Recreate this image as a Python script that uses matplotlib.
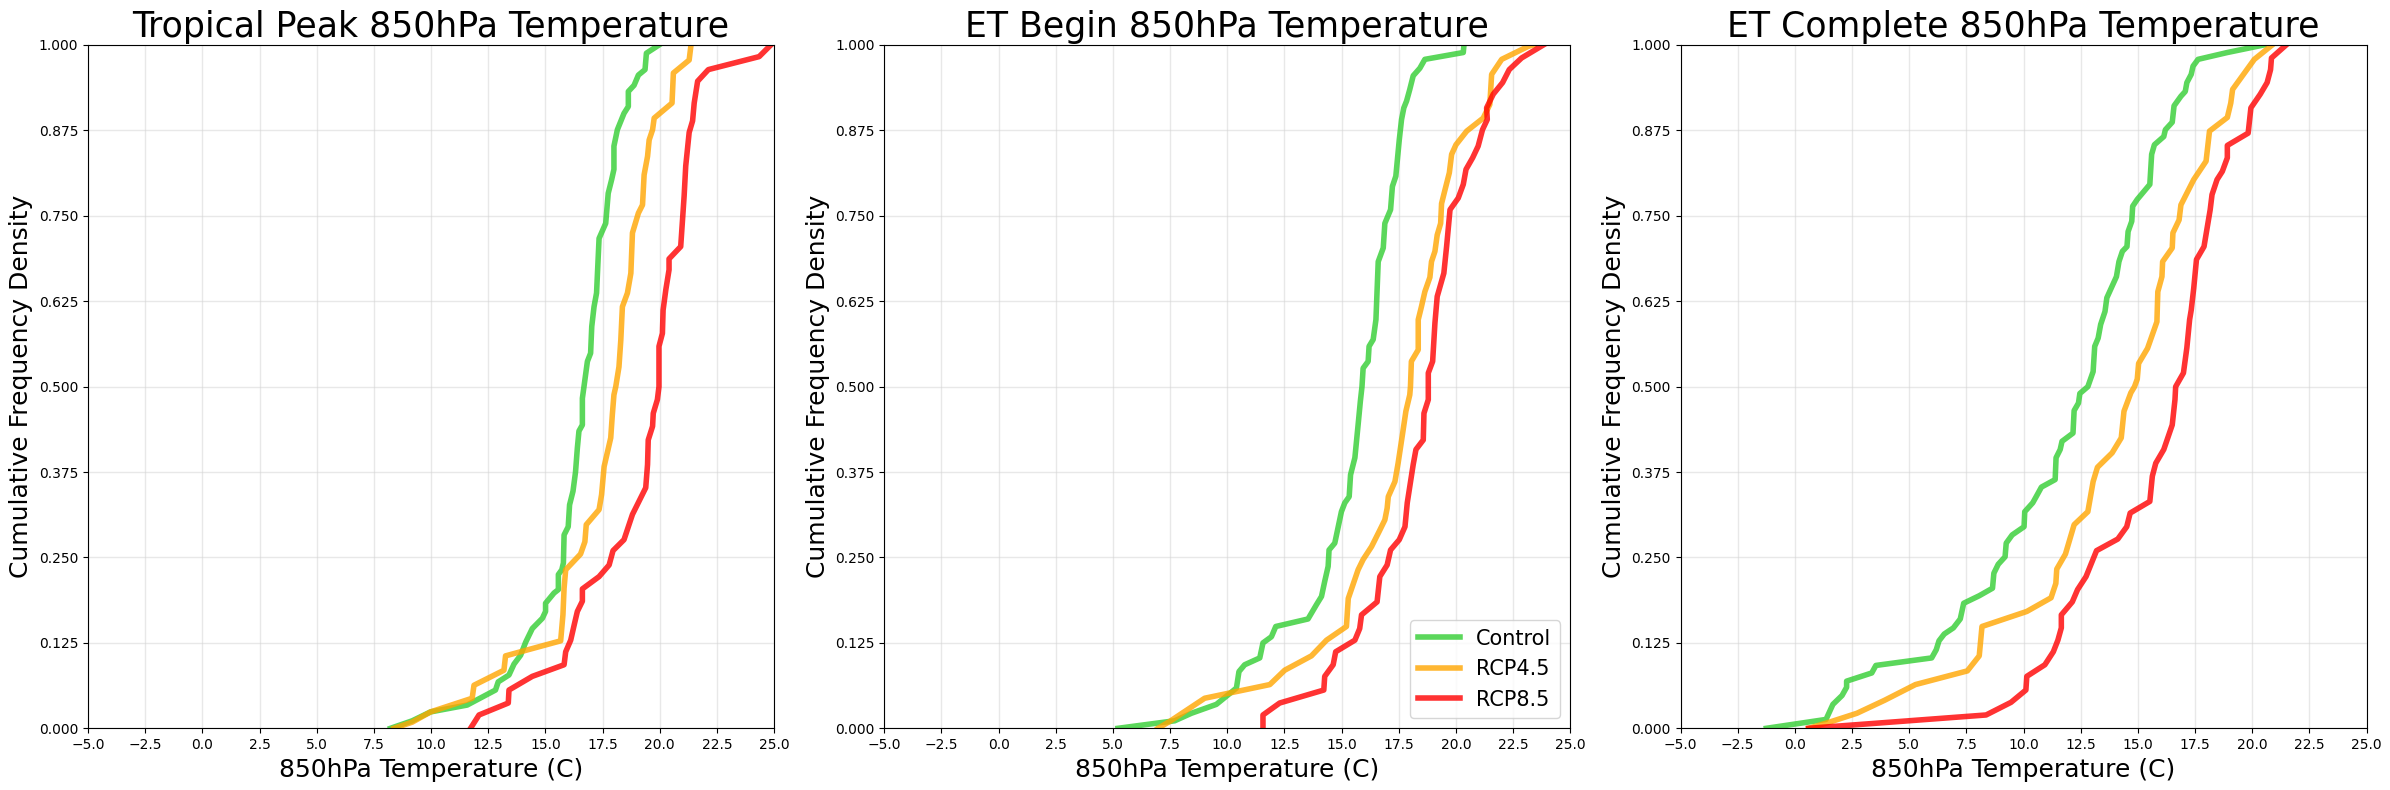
import matplotlib
matplotlib.use("Agg")
import matplotlib.pyplot as plt
import numpy as np

titles = ["Tropical Peak 850hPa Temperature", "ET Begin 850hPa Temperature", "ET Complete 850hPa Temperature"]
series_names = ["Control", "RCP4.5", "RCP8.5"]
series_colors = ["limegreen", "orange", "red"]
xlabel = "850hPa Temperature (C)"
ylabel = "Cumulative Frequency Density"
xticks = [-5.0, -2.5, 0.0, 2.5, 5.0, 7.5, 10.0, 12.5, 15.0, 17.5, 20.0, 22.5, 25.0]
yticks = [0.0, 0.125, 0.25, 0.375, 0.5, 0.625, 0.75, 0.875, 1.0]

# ---- Tropical Peak ----
tp_control_x = [8.23, 9.18, 9.98, 11.58, 12.82, 12.94, 13.41, 13.63, 13.92, 14.14, 14.43, 14.87, 15.01, 15.01, 15.38, 15.57, 15.57, 15.72, 15.79, 15.82, 16.0, 16.06, 16.21, 16.32, 16.4, 16.47, 16.62, 16.62, 16.69,
                16.84, 16.98, 17.03, 17.13, 17.24, 17.35, 17.64, 17.75, 17.9, 18.0, 18.0, 18.15, 18.44, 18.63, 18.63, 18.88, 19.07, 19.36, 19.42, 19.97]
tp_control_y = [0.0, 0.011, 0.024, 0.034, 0.056, 0.068, 0.078, 0.094, 0.107, 0.126, 0.146, 0.161, 0.171, 0.183, 0.198, 0.203, 0.225, 0.232, 0.242, 0.283, 0.295, 0.327, 0.347, 0.375, 0.41, 0.435, 0.444, 0.483, 0.5,
                0.537, 0.549, 0.588, 0.617, 0.637, 0.717, 0.739, 0.783, 0.803, 0.818, 0.852, 0.876, 0.9, 0.91, 0.932, 0.941, 0.956, 0.964, 0.988, 1.0]
tp_rcp45_x = [8.38, 9.18, 9.98, 11.80, 11.88, 13.19, 13.26, 15.67, 15.77, 15.82, 15.89, 16.54, 16.73, 16.79, 17.35, 17.46, 17.57, 17.86, 17.93, 18.0, 18.08,
              18.22, 18.3, 18.37, 18.59, 18.74, 18.81, 19.07, 19.25, 19.32, 19.47, 19.54, 19.69, 19.76, 20.54, 20.6, 21.29, 21.37]
tp_rcp45_y = [0.0, 0.009, 0.024, 0.044, 0.063, 0.085, 0.106, 0.128, 0.166, 0.205, 0.232, 0.255, 0.273, 0.298, 0.32, 0.342, 0.383, 0.425, 0.459, 0.488, 0.5,
              0.529, 0.568, 0.617, 0.637, 0.666, 0.725, 0.754, 0.766, 0.81, 0.837, 0.861, 0.876, 0.893, 0.915, 0.959, 0.978, 1.0]
tp_rcp85_x = [11.73, 12.1, 13.38, 13.41, 14.43, 15.82, 15.89, 16.11, 16.26, 16.4, 16.62, 16.62, 17.35, 17.79, 17.96, 18.44, 18.81, 19.39, 19.47, 19.5, 19.69, 19.72, 19.9, 19.97,
              19.97, 20.12, 20.15, 20.27, 20.41, 20.41, 20.92, 21.07, 21.14, 21.29, 21.44, 21.51, 21.66, 22.13, 24.35, 24.86]
tp_rcp85_y = [0.0, 0.0195, 0.037, 0.056, 0.076, 0.093, 0.112, 0.129, 0.151, 0.171, 0.186, 0.204, 0.222, 0.239, 0.26, 0.276, 0.313, 0.352, 0.386, 0.422, 0.442, 0.461, 0.481, 0.5,
              0.559, 0.578, 0.612, 0.642, 0.671, 0.687, 0.705, 0.779, 0.823, 0.872, 0.889, 0.915, 0.947, 0.964, 0.983, 1.0]

# ---- ET Begin ----
eb_control_x = [5.22, 7.7, 8.43, 9.52, 10.11, 10.40, 10.51, 10.76, 11.42, 11.56, 11.93, 12.12, 13.53, 13.9, 14.12, 14.26, 14.41, 14.45, 14.7, 14.99, 15.14, 15.33, 15.39, 15.58, 15.72, 15.82, 15.89,
                15.94, 16.16, 16.2, 16.38, 16.5, 16.6, 16.82, 16.89, 17.14, 17.22, 17.37, 17.52, 17.62, 17.72, 17.84, 17.98, 18.13, 18.42, 18.64, 20.32, 20.35]
eb_control_y = [0.0, 0.011, 0.022, 0.035, 0.051, 0.059, 0.083, 0.093, 0.103, 0.125, 0.134, 0.149, 0.16, 0.181, 0.193, 0.215, 0.237, 0.261, 0.271, 0.317, 0.33, 0.339, 0.371, 0.396, 0.444, 0.479, 0.5,
                0.527, 0.537, 0.559, 0.569, 0.598, 0.683, 0.703, 0.739, 0.759, 0.793, 0.808, 0.861, 0.891, 0.908, 0.918, 0.935, 0.955, 0.966, 0.979, 0.989, 1.0]
eb_rcp45_x = [6.97, 7.48, 9.01, 11.86, 12.51, 13.68, 14.34, 15.21, 15.29, 15.72, 15.94, 16.31, 16.64, 16.89, 16.99, 17.04, 17.33, 17.47, 17.66, 17.81, 17.98, 18.01,
              18.05, 18.35, 18.35, 18.49, 18.64, 18.86, 18.93, 19.08, 19.18, 19.33, 19.37, 19.52, 19.71, 19.81, 20.0, 20.47, 21.19, 21.48, 21.56, 22.0, 23.16, 23.38]
eb_rcp45_y = [0.0, 0.01, 0.044, 0.064, 0.085, 0.106, 0.129, 0.149, 0.19, 0.232, 0.247, 0.266, 0.288, 0.305, 0.322, 0.339, 0.361, 0.388, 0.43, 0.464, 0.488, 0.5,
              0.537, 0.554, 0.598, 0.617, 0.639, 0.66, 0.683, 0.698, 0.722, 0.739, 0.768, 0.788, 0.813, 0.84, 0.854, 0.874, 0.893, 0.913, 0.957, 0.979, 0.998, 1.0]
eb_rcp85_x = [11.56, 11.56, 12.29, 14.22, 14.26, 14.63, 14.74, 15.58, 15.79, 15.87, 16.55, 16.67, 16.99, 17.14, 17.52, 17.77, 17.87, 18.13, 18.25, 18.57, 18.6, 18.79, 18.79,
              18.79, 18.98, 19.08, 19.18, 19.47, 19.59, 19.74, 20.1, 20.32, 20.44, 20.73, 20.97, 21.16, 21.37, 21.34, 21.63, 22.04, 22.33, 22.87, 23.82]
eb_rcp85_y = [0.0, 0.0195, 0.037, 0.056, 0.076, 0.093, 0.112, 0.129, 0.146, 0.166, 0.185, 0.222, 0.239, 0.261, 0.276, 0.295, 0.33, 0.386, 0.408, 0.422, 0.461, 0.481, 0.5,
              0.52, 0.537, 0.593, 0.632, 0.666, 0.705, 0.759, 0.776, 0.796, 0.818, 0.835, 0.852, 0.876, 0.891, 0.908, 0.928, 0.945, 0.964, 0.981, 1.0]

# ---- ET Complete ----
ec_control_x = [-1.25, 1.36, 1.66, 2.06, 2.26, 2.26, 3.36, 3.54, 5.98, 6.18, 6.3, 6.53, 6.93, 7.23, 7.38, 8.06, 8.64, 8.7, 8.89, 9.19, 9.24, 9.5, 10.02, 10.05, 10.4, 10.55, 10.78, 11.38, 11.42, 11.6, 11.68, 12.16, 12.21, 12.4, 12.46, 12.81,
                13.04, 13.11, 13.26, 13.37, 13.56, 13.64, 13.87, 14.06, 14.17, 14.32, 14.52, 14.57, 14.73, 14.77, 14.97, 15.52, 15.6, 15.72, 16.13, 16.2, 16.5, 16.58, 16.88, 17.07, 17.14, 17.33, 17.41, 17.63, 18.91, 20.5]
ec_control_y = [0.0, 0.013, 0.035, 0.048, 0.06, 0.069, 0.081, 0.092, 0.103, 0.115, 0.128, 0.138, 0.147, 0.16, 0.183, 0.194, 0.205, 0.227, 0.24, 0.251, 0.271, 0.283, 0.295, 0.317, 0.33, 0.339, 0.353, 0.364, 0.396, 0.408, 0.42, 0.432, 0.465, 0.476, 0.49, 0.5,
                0.522, 0.559, 0.571, 0.591, 0.61, 0.63, 0.647, 0.661, 0.683, 0.698, 0.705, 0.727, 0.742, 0.764, 0.774, 0.796, 0.84, 0.854, 0.866, 0.876, 0.887, 0.911, 0.925, 0.932, 0.945, 0.957, 0.969, 0.979, 0.989, 1.0]
ec_rcp45_x = [0.6, 1.51, 2.71, 3.92, 5.27, 7.54, 8.06, 8.18, 10.14, 11.2, 11.41, 11.45, 11.83, 12.21, 12.81, 13.04, 13.23, 13.87, 14.27, 14.39, 14.69, 14.85,
              14.97, 15.03, 15.42, 15.83, 15.87, 16.05, 16.08, 16.5, 16.53, 16.8, 16.88, 17.44, 17.98, 18.13, 18.91, 19.06, 19.14, 20.09, 20.87]
ec_rcp45_y = [0.0, 0.009, 0.022, 0.041, 0.064, 0.084, 0.106, 0.149, 0.171, 0.191, 0.212, 0.233, 0.255, 0.298, 0.317, 0.361, 0.382, 0.403, 0.425, 0.464, 0.491, 0.5,
              0.511, 0.534, 0.556, 0.595, 0.639, 0.661, 0.683, 0.703, 0.725, 0.744, 0.766, 0.803, 0.83, 0.874, 0.894, 0.915, 0.935, 0.979, 1.0]
ec_rcp85_x = [0.6, 8.36, 9.45, 10.1, 10.14, 10.93, 11.3, 11.5, 11.65, 11.65, 12.13, 12.36, 12.73, 13.19, 14.12, 14.51, 14.66, 15.52, 15.63, 15.78, 16.13, 16.5, 16.62, 16.65,
              16.99, 17.14, 17.26, 17.33, 17.44, 17.56, 17.89, 18.16, 18.24, 18.46, 18.69, 18.91, 18.91, 19.82, 19.94, 20.35, 20.65, 20.8, 20.84, 21.48]
ec_rcp85_y = [0.0, 0.0195, 0.038, 0.056, 0.076, 0.093, 0.112, 0.129, 0.147, 0.166, 0.185, 0.203, 0.222, 0.26, 0.277, 0.295, 0.315, 0.332, 0.369, 0.388, 0.408, 0.444, 0.481, 0.5,
              0.52, 0.557, 0.598, 0.612, 0.644, 0.686, 0.705, 0.759, 0.781, 0.803, 0.815, 0.835, 0.853, 0.871, 0.908, 0.928, 0.945, 0.964, 0.981, 1.0]

panels = [
    [(tp_control_x, tp_control_y), (tp_rcp45_x, tp_rcp45_y), (tp_rcp85_x, tp_rcp85_y)],
    [(eb_control_x, eb_control_y), (eb_rcp45_x, eb_rcp45_y), (eb_rcp85_x, eb_rcp85_y)],
    [(ec_control_x, ec_control_y), (ec_rcp45_x, ec_rcp45_y), (ec_rcp85_x, ec_rcp85_y)],
]

W, H = 2390, 790
fig = plt.figure(figsize=(W / 100, H / 100), dpi=100)
lefts = [88, 884.3, 1680.6]
ax_w = 686
top_px, bot_px = 45, 728.3
for i, (title, data) in enumerate(zip(titles, panels)):
    ax = fig.add_axes([lefts[i] / W, 1 - bot_px / H, ax_w / W, (bot_px - top_px) / H])
    for (xs, ys), name, col in zip(data, series_names, series_colors):
        ax.plot(xs, ys, color=col, alpha=0.8, linewidth=4, label=name)
    ax.set_xlim(-5, 25)
    ax.set_ylim(0, 1)
    ax.set_xticks(xticks)
    ax.set_yticks(yticks)
    ax.set_yticklabels([f"{v:.3f}" for v in yticks])
    ax.grid(True, color="lightgray", alpha=0.5, linewidth=1)
    ax.set_axisbelow(True)
    ax.set_title(title, fontsize=25)
    ax.set_xlabel(xlabel, fontsize=18)
    ax.set_ylabel(ylabel, fontsize=18)
    if i == 1:
        ax.legend(loc="lower right", fontsize=15)

fig.savefig("out.png", dpi=100)
